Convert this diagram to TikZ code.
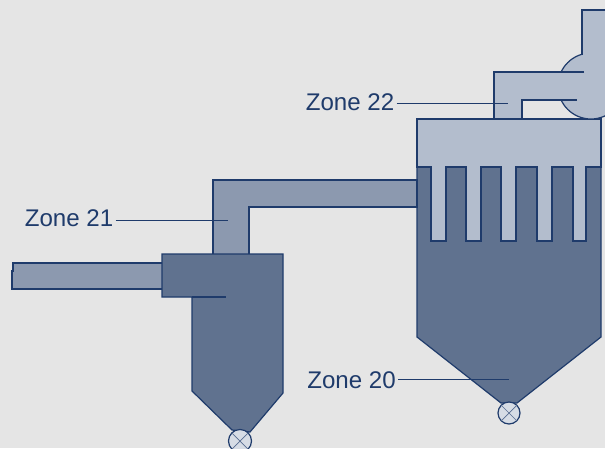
\documentclass[tikz,border=0pt]{standalone}
\usepackage{fontspec}
\setmainfont{Liberation Sans}
\definecolor{plantbg}{HTML}{E5E5E5}
\definecolor{plantline}{HTML}{1F3B6B}
\definecolor{plantdark}{HTML}{60728F}
\definecolor{plantmid}{HTML}{8C99AF}
\definecolor{plantlight}{HTML}{B3BDCD}
\definecolor{plantvalve}{HTML}{D6DCE5}
\tikzset{
    outline/.style={draw=plantline, line width=1.2pt, line join=miter},
    darkpart/.style={outline, fill=plantdark},
    midpart/.style={outline, fill=plantmid},
    lightpart/.style={outline, fill=plantlight},
    valvebody/.style={outline, fill=plantvalve},
    valvecross/.style={draw=plantline!75!white, line width=0.7pt},
    zonelabel/.style={anchor=east, inner sep=2pt, text=plantline, font=\fontsize{24.1}{28}\selectfont},
    leader/.style={draw=plantline, line width=0.8pt}
}

\begin{document}
\begin{tikzpicture}[x=1pt, y=-1pt]
    \useasboundingbox (0,0) rectangle (605,448);
    \clip (0,0) rectangle (605,448);
    \fill[plantbg] (0,0) rectangle (605,448);

    \coordinate (Z22end) at (508,103);
    \coordinate (Z21end) at (228,220);
    \coordinate (Z20end) at (509,379);

    % filter casing
    \filldraw[darkpart] (417,119) -- (601,119) -- (601,337) -- (517,403)
        -- (501,403) -- (417,337) -- cycle;
    \fill[plantlight] (417,119) rectangle (601,167);
    \draw[outline] (417,167) -- (417,119) -- (601,119) -- (601,167) -- cycle;
    \foreach \a/\b in {431/446, 466/481, 501/516, 537/552, 573/586}
        \filldraw[lightpart] (\a,166) -- (\a,241) -- (\b,241) -- (\b,166);

    % fan and outlet
    \filldraw[lightpart] (591,86) circle (33);
    \fill[plantlight] (494,72) rectangle (605,100);
    \fill[plantlight] (582,10) rectangle (605,90);
    \filldraw[lightpart] (584,72) -- (494,72) -- (494,119) -- (522,119)
        -- (522,100) -- (577,100);
    \fill[plantlight] (523,73) rectangle (583,99);
    \draw[outline] (605,10) -- (582,10) -- (582,55);

    % duct between the two vessels
    \filldraw[midpart] (213,254) -- (213,180) -- (417,180) -- (417,207)
        -- (249,207) -- (249,254);

    % inlet and cyclone
    \filldraw[midpart] (162,263) -- (13,263) -- (13,271) -- (12,271)
        -- (12,289) -- (162,289);
    \filldraw[darkpart] (162,254) -- (283,254) -- (283,393) -- (250,432)
        -- (232,430) -- (192,391) -- (192,297) -- (162,297) -- cycle;
    \draw[outline] (192,297) -- (226,297);

    % rotary valves
    \filldraw[valvebody] (509,413) circle (11);
    \draw[valvecross] (501.2,405.2) -- (516.8,420.8);
    \draw[valvecross] (516.8,405.2) -- (501.2,420.8);
    \filldraw[valvebody] (240,441) circle (11.5);
    \draw[valvecross] (231.9,432.9) -- (248.1,449.1);
    \draw[valvecross] (248.1,432.9) -- (231.9,449.1);

    \node[zonelabel] (Z22) at (396.5,102.5) {Zone 22};
    \node[zonelabel] (Z21) at (115.5,218) {Zone 21};
    \node[zonelabel] (Z20) at (398,380) {Zone 20};

    \draw[leader] (Z22.east |- Z22end) -- (Z22end);
    \draw[leader] (Z21.east |- Z21end) -- (Z21end);
    \draw[leader] (Z20.east |- Z20end) -- (Z20end);
\end{tikzpicture}
\end{document}
